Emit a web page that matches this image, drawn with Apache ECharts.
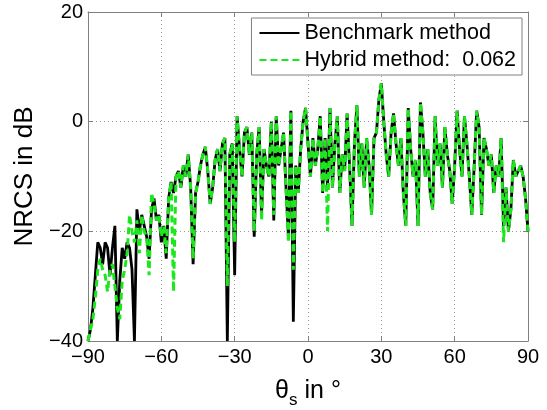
<!DOCTYPE html>
<html>
<head>
<meta charset="utf-8">
<script src="https://cdn.jsdelivr.net/npm/echarts@6/dist/echarts.min.js"></script>
<style>
html,body{margin:0;padding:0;background:#fff;}
#c{width:547px;height:410px;}
</style>
</head>
<body>
<div id="c"></div>
<script>
// Scattering angle theta_s in degrees
const angles = [];
for (let a = -90; a <= 90; a++) angles.push(a);

// Benchmark method NRCS (dB), one value per degree from -90 to 90
const benchmark = [
 -40,-38,-34,-28,-22,-23,-26,-22,-23,-28,
 -23,-19,-40,-29,-23,-25,-22,-23,-27,-40,
 -16,-20,-17,-19,-21,-25,-16,-14,-18,-17,
 -22,-19,-25,-14,-11,-13,-10,-9,-12,-8,
 -10,-6,-12,-26,-13,-11,-8,-6,-4.6,-9,
 -15,-12,-7,-5,-9,-4,-3,-40,-6,-4,
 -28,1,-5,-10,-2,-1,-6,-2,-21,-6,
 -1,-17,-5,-8,-10,0,-18,1,-8,-5,
 -2,-12,-21,2,-36.5,-8,-13,-5,0,2.5,
 -4,-10,-3,-8,-5,1,-13,-3,-12,2.5,
 -12,-4,1,-13,-6,-9,1.5,-8,-19,-4,
 3,-10,-4,-12,-3,-8,-17,-3,-2,4,
 7,0,-6,-10,-2,1.5,-4,-8,-3,-13,
 -19,2.5,-5,-10,-7,-19,3.5,-2,-10,-5,
 -13,-16,1,-8,-4,-12,-1,-6,-9,-15,
 -8,2,-5,-10,1,-4,-10,-17,-8,2,
 -1,-17,-3,-5,-8,-6,-13,-8,-10,-3,
 -19,-12,-20,-16,-7,-10,-9,-8,-10,-14,
 -20
];

// Hybrid method NRCS (dB), one value per degree from -90 to 90
const hybrid = [
 -40,-38,-36,-32,-27,-25,-27,-28,-31,-27,
 -26,-30,-34,-36,-29,-27,-24,-17,-20,-22,
 -18,-24,-17,-20,-21,-28,-13,-15,-18,-17,
 -21,-19,-24,-14,-11,-31,-10,-9,-12,-8,
 -10,-6,-12,-25,-13,-11,-8,-6,-4.6,-9,
 -15,-12,-7,-5,-9,-4,-3,-30,-6,-4,
 -22,1,-5,-10,-2,-1,-6,-2,-20,-6,
 -1,-18,-5,-8,-10,0,-17,1,-8,-5,
 -2,-12,-22,2,-27,-8,-13,-5,0,2.5,
 -4,-10,-3,-8,-5,1,-13,-3,-20,2.5,
 -12,-4,1,-13,-6,-9,1.5,-8,-19,-4,
 3,-10,-4,-12,-3,-8,-17,-3,-2,4,
 7,0,-6,-10,-2,1.5,-4,-8,-3,-13,
 -19,2.5,-5,-10,-7,-19,3.5,-2,-10,-5,
 -13,-16,1,-8,-4,-12,-1,-6,-9,-15,
 -8,2,-5,-10,1,-4,-10,-17,-8,2,
 -1,-17,-3,-5,-8,-6,-13,-8,-10,-3,
 -22,-12,-20,-16,-7,-10,-9,-8,-10,-14,
 -20
];

const xTicks = [-90, -60, -30, 0, 30, 60, 90];
const yTicks = [-40, -20, 0, 20];
const seriesNames = ['Benchmark method', 'Hybrid method:  0.062'];

const fmt = v => String(v).replace('-', '\u2212');
const FONT = 'Liberation Sans, Arial, Helvetica, sans-serif';

const chart = echarts.init(document.getElementById('c'), null, {renderer: 'canvas'});

const gridLine = {show: true, lineStyle: {color: '#999999', type: [1, 3], width: 1}};
const axisLine = {show: true, onZero: false, lineStyle: {color: '#808080', width: 1}};
const tick = {show: true, inside: true, length: 5, lineStyle: {color: '#808080'}};

chart.setOption({
  animation: false,
  backgroundColor: '#fff',
  textStyle: {fontFamily: FONT},
  grid: {left: 88, right: 19, top: 12, bottom: 69, containLabel: false, outerBoundsMode: 'none'},
  legend: {
    orient: 'vertical',
    right: 25, top: 18,
    backgroundColor: '#fff',
    borderColor: '#808080', borderWidth: 1,
    padding: [4, 6, 4, 7],
    itemGap: 5,
    itemWidth: 40, itemHeight: 14,
    itemStyle: {color: 'rgba(0,0,0,0)', borderWidth: 0, opacity: 0},
    textStyle: {fontSize: 21.5, color: '#000', fontFamily: FONT},
    data: seriesNames
  },
  xAxis: [{
    type: 'value', min: xTicks[0], max: xTicks[xTicks.length - 1], interval: 30,
    axisLine: axisLine, axisTick: tick,
    axisLabel: {fontSize: 20, color: '#000', margin: 6, formatter: fmt, fontFamily: FONT},
    splitLine: gridLine,
    name: '{a|\u03b8}{b|s}{a| in \u00b0}',
    nameLocation: 'middle', nameGap: 33,
    nameTextStyle: {
      rich: {
        a: {fontSize: 25, color: '#000', fontFamily: FONT},
        b: {fontSize: 17, color: '#000', fontFamily: FONT, padding: [18, 0, 0, 0]}
      }
    }
  }, {
    type: 'value', position: 'top', min: -90, max: 90, interval: 30,
    axisLine: axisLine, axisTick: tick,
    axisLabel: {show: false}, splitLine: {show: false}
  }],
  yAxis: [{
    type: 'value', min: yTicks[0], max: yTicks[yTicks.length - 1], interval: 20,
    axisLine: axisLine, axisTick: tick,
    axisLabel: {fontSize: 20, color: '#000', margin: 5, formatter: fmt, fontFamily: FONT},
    splitLine: gridLine,
    name: 'NRCS in dB',
    nameLocation: 'middle', nameGap: 50,
    nameTextStyle: {fontSize: 26, color: '#000', fontFamily: FONT}
  }, {
    type: 'value', position: 'right', min: -40, max: 20, interval: 20,
    axisLine: axisLine, axisTick: tick,
    axisLabel: {show: false}, splitLine: {show: false}
  }],
  series: [{
    name: seriesNames[0], type: 'line', symbol: 'none', showSymbol: false,
    data: angles.map((a, i) => [a, benchmark[i]]),
    lineStyle: {color: '#000', width: 2.8},
    itemStyle: {color: '#000'},
    clip: true, z: 2
  }, {
    name: seriesNames[1], type: 'line', symbol: 'none', showSymbol: false,
    data: angles.map((a, i) => [a, hybrid[i]]),
    lineStyle: {color: '#1ee61e', width: 3, type: [7, 4]},
    itemStyle: {color: '#1ee61e'},
    clip: true, z: 3
  }]
});
</script>
</body>
</html>
